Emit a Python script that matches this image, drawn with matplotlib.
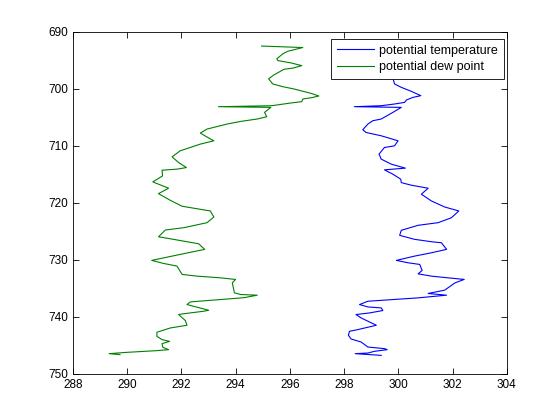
import matplotlib
matplotlib.use('Agg')
import matplotlib.pyplot as plt

# ── data (x = temperature K, y = pressure hPa) ──
dew_x = [294.96, 296.48, 295.93, 295.74, 295.52, 295.56, 296.04, 296.33, 296.44, 296.15,
         295.78, 295.59, 295.41, 295.22, 295.37, 295.74, 296.15, 296.78, 297.07, 296.81,
         296.48, 296.44, 296.04, 295.33, 293.37, 295.30, 295.07, 295.15, 294.80, 294.19,
         293.69, 292.95, 292.70, 292.93, 293.20, 292.70, 291.96, 291.66, 291.90, 292.19,
         291.84, 291.29, 291.31, 290.95, 291.53, 291.16, 291.59, 292.03, 293.07, 293.20,
         292.95, 292.09, 291.41, 291.16, 291.71, 292.64, 292.86, 291.84, 290.91, 291.34,
         291.84, 292.03, 292.58, 293.44, 294.00, 293.88, 293.96, 294.19, 294.80, 294.31,
         292.33, 292.21, 293.01, 292.83, 292.03, 291.90, 292.15, 292.21, 291.59, 291.10,
         291.10, 291.29, 291.57, 291.29, 291.32, 291.53, 291.10, 289.99, 289.34, 289.74]
dew_p = [692.55, 692.81, 693.46, 693.92, 694.80, 695.10, 695.50, 695.85, 695.98, 696.38,
         696.63, 697.15, 697.61, 698.31, 699.19, 699.67, 700.07, 700.84, 701.30, 701.60,
         701.83, 702.30, 702.53, 703.01, 703.18, 703.30, 704.18, 704.94, 705.34, 705.76,
         706.22, 707.10, 707.80, 708.45, 709.16, 709.74, 710.91, 711.97, 712.97, 713.85,
         714.13, 714.31, 715.31, 716.36, 717.47, 718.42, 719.58, 720.63, 721.46, 722.51,
         723.51, 724.39, 724.80, 725.98, 726.43, 727.21, 728.19, 729.19, 730.12, 730.65,
         731.12, 732.58, 732.88, 733.18, 733.46, 734.06, 735.82, 736.10, 736.22, 736.66,
         737.40, 737.86, 738.86, 739.03, 739.51, 739.61, 740.67, 741.49, 741.97, 742.72,
         743.43, 744.01, 744.31, 744.71, 745.36, 745.77, 745.94, 746.24, 746.47, 746.64]

theta_x = [299.80, 300.10, 299.80, 299.80, 299.86, 300.11, 300.48, 300.83, 300.54, 300.30,
           300.23, 299.86, 299.37, 298.38, 300.11, 299.80, 299.37, 299.06, 298.88, 298.69,
           298.81, 299.37, 299.99, 299.86, 299.49, 299.29, 299.37, 299.74, 300.26, 299.49,
           299.80, 300.09, 300.11, 300.48, 301.10, 300.85, 301.22, 301.71, 302.23, 301.96,
           301.47, 300.73, 300.11, 300.05, 300.60, 301.22, 301.59, 301.78, 301.22, 300.60,
           299.93, 300.36, 300.79, 300.88, 300.73, 301.22, 301.84, 302.43, 302.09, 301.71,
           301.10, 301.78, 300.73, 298.88, 298.57, 298.88, 299.37, 299.43, 298.94, 298.44,
           298.63, 299.19, 298.51, 298.20, 298.16, 298.26, 298.63, 298.88, 299.49, 299.59,
           299.12, 298.88, 298.41, 299.37]
theta_p = [692.60, 694.50, 696.50, 698.14, 699.19, 699.79, 700.49, 701.25, 701.55, 702.00,
           702.43, 702.71, 703.01, 703.18, 703.30, 704.18, 705.34, 705.64, 706.22, 707.22,
           707.70, 708.28, 709.16, 710.04, 710.33, 711.49, 712.37, 713.25, 713.95, 714.25,
           715.01, 715.89, 716.49, 716.94, 717.47, 718.52, 719.70, 720.76, 721.46, 722.64,
           723.51, 723.97, 724.85, 725.73, 726.43, 726.85, 727.03, 728.19, 728.79, 729.37,
           730.12, 730.54, 730.83, 731.88, 732.48, 732.88, 733.18, 733.46, 734.06, 735.34,
           735.92, 736.22, 736.69, 737.28, 737.86, 738.28, 738.45, 738.91, 739.33, 739.61,
           740.21, 741.49, 742.25, 742.55, 743.25, 743.90, 744.43, 745.31, 745.59, 745.77,
           746.06, 746.36, 746.47, 746.77]

plt.rcParams['font.family'] = ['Liberation Sans', 'DejaVu Sans']

fig = plt.figure(figsize=(5.6, 4.2), dpi=100)
ax = fig.add_axes([0.13, 0.11, 0.775, 0.815])

ax.plot(theta_x, theta_p, color='#0000ff', lw=0.8, label='potential temperature')
ax.plot(dew_x, dew_p, color='#008000', lw=0.8, label='potential dew point')

ax.set_xlim(288, 304)
ax.set_ylim(750, 690)
ax.set_xticks(range(288, 305, 2))
ax.set_yticks(range(690, 751, 10))
ax.tick_params(direction='in', top=True, right=True, labelsize=8.5, length=4, width=0.6)
for sp in ax.spines.values():
    sp.set_linewidth(0.6)

leg = ax.legend(loc='upper right', bbox_to_anchor=(0.993, 0.978), borderaxespad=0,
                fontsize=9, fancybox=False, framealpha=1, edgecolor='black',
                handlelength=3.0, handletextpad=0.4, borderpad=0.45,
                labelspacing=0.35)
leg.get_frame().set_linewidth(0.6)
leg.set_zorder(5)

fig.savefig('out.png', dpi=100)
